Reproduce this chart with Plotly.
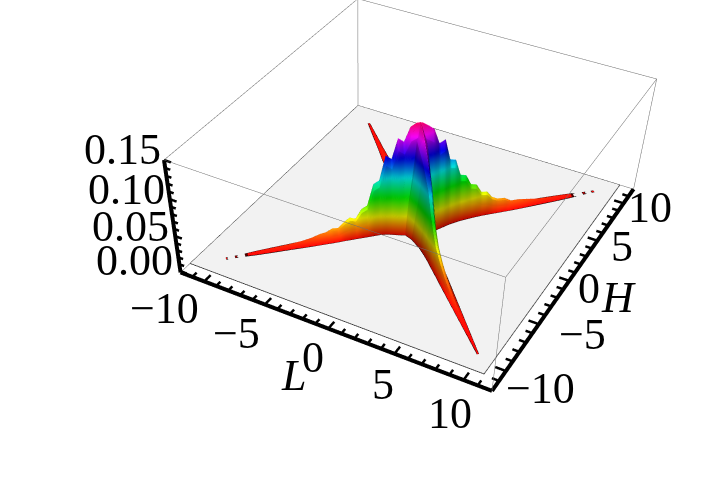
import numpy as np
import plotly.graph_objects as go

# ---- data -----------------------------------------------------------------
L_RANGE = [-12, 12]
H_RANGE = [-12, 12]
Z_RANGE = [-0.002, 0.15]
FLOOR_L = [-12, 10.9]
FLOOR_H = [-10.9, 12]
L_TICKS = list(range(-11, 12))
H_TICKS = list(range(-11, 12))
Z_TICKS = [round(0.01 * i, 2) for i in range(0, 16)]
L_LABELS = [(-10, "\u221210", -40, 27), (-5, "\u22125", -28, 29), (0, "0", -15, 29), (5, "5", -11, 31), (10, "10", -13, 33)]
H_LABELS = [(-10, "\u221210", 35, 17), (-5, "\u22125", 44, 10), (0, "0", 20, 8), (5, "5", 25, 6), (10, "10", 26, 4)]
Z_LABELS = [(0.0, "0.00", -46, -11), (0.05, "0.05", -45, -10), (0.1, "0.10", -43, -10), (0.15, "0.15", -42, -10)]
ACROSS = [-1, -0.6, -0.25, 0, 0.25, 0.6, 1]
CENTER_P = 0.1
CENTER_Q = -0.3
GAP = [None] * 7

# ridge along L = H (left arm to right arm)
P_STATIONS = [-9.8,-9.7,-9.55,-9.35,-9.2,-9.05,-8.85,-8.3,-7.5,-6.8,-6,-5.5,-5,
              -4.7,-4.4,-4.1,-3.8,-3.5,-3.2,-2.9,-2.6,-2.3,-2,-1.7,-1.4,-1.1,-.8,-.5,-.2,
              .1,.4,.7,1,1.3,1.6,1.9,2.2,2.5,2.8,3.1,3.4,3.7,4,4.3,4.7,5.1,5.5,6.5,7.5,8.2,8.7,
              8.95,9.1,9.3,9.45,9.6,9.75]
P_WIDTH = [.07,.08,.08,.08,.08,.09,.1,.15,.19,.22,.26,.28,.3,
           .31,.32,.32,.32,.33,.33,.34,.35,.36,.38,.44,.55,.68,.78,.88,1.0,
           1.05,.95,.85,.75,.65,.55,.48,.42,.38,.35,.32,.31,.3,.3,.3,.3,.3,.29,.26,.22,.18,.14,
           .11,.09,.08,.08,.07,.06]
P_Z = [
 [.0002,.0002,.0003,.0004,.0003,.0002,.0002],
 [.0002,.0003,.0004,.0005,.0004,.0003,.0002],
 GAP,
 [.0002,.0003,.0004,.0005,.0004,.0003,.0002],
 [.0002,.0003,.0004,.0005,.0004,.0003,.0002],
 GAP,
 [.0002,.0003,.0005,.0006,.0005,.0003,.0002],
 [.0002,.0007,.0013,.0015,.0013,.0007,.0002],
 [.0002,.0011,.0022,.0025,.0022,.0011,.0002],
 [.0002,.0016,.0031,.0035,.0031,.0016,.0002],
 [.0002,.0022,.0044,.005,.0044,.0023,.0002],
 [.0002,.0032,.0062,.007,.0062,.0032,.0002],
 [.0003,.005,.0097,.011,.0097,.005,.0003],
 [.0003,.0054,.0106,.012,.0106,.0054,.0003],
 [.0003,.0072,.0141,.016,.0141,.0072,.0003],
 [.0003,.0068,.0132,.015,.0132,.0068,.0003],
 [.0004,.0099,.0194,.022,.0194,.0099,.0004],
 [.0004,.0122,.0238,.027,.0238,.0122,.0004],
 [.0004,.0108,.0211,.024,.0211,.0108,.0004],
 [.0004,.0162,.0317,.036,.0317,.0162,.0004],
 [.0005,.018,.0352,.04,.0352,.018,.0005],
 [.0006,.0306,.0598,.068,.0598,.0306,.0006],
 [.0008,.0324,.0634,.072,.0634,.0324,.0008],
 [.001,.0468,.0915,.104,.0915,.0468,.001],
 [.001,.0441,.0862,.098,.0862,.0441,.001],
 [.001,.0558,.1091,.124,.1091,.0558,.001],
 [.001,.0531,.1038,.118,.1038,.0531,.001],
 [.001,.0612,.1197,.136,.1197,.0612,.001],
 [.001,.063,.1232,.14,.1232,.063,.001],
 [.001,.0626,.1223,.139,.1223,.0626,.001],
 [.001,.0603,.1179,.134,.1179,.0603,.001],
 [.001,.0576,.1126,.128,.1126,.0576,.001],
 [.001,.0486,.095,.108,.095,.0486,.001],
 [.001,.0504,.0986,.112,.0986,.0504,.001],
 [.001,.0378,.0739,.084,.0739,.0378,.001],
 [.0008,.0369,.0722,.082,.0722,.0369,.0008],
 [.0008,.027,.0528,.06,.0528,.027,.0008],
 [.0006,.0261,.051,.058,.051,.0261,.0006],
 [.0006,.0198,.0387,.044,.0387,.0198,.0006],
 [.0005,.0189,.037,.042,.037,.0189,.0005],
 [.0005,.0135,.0264,.03,.0264,.0135,.0005],
 [.0004,.0131,.0255,.029,.0255,.0131,.0004],
 [.0004,.009,.0176,.02,.0176,.009,.0004],
 [.0003,.0072,.0141,.016,.0141,.0072,.0003],
 [.0003,.0068,.0132,.015,.0132,.0068,.0003],
 [.0002,.0041,.0079,.009,.0079,.0041,.0002],
 [.0002,.0041,.0079,.009,.0079,.0041,.0002],
 [.0002,.002,.004,.0045,.004,.002,.0002],
 [.0002,.0014,.0026,.003,.0026,.0014,.0002],
 [.0002,.0009,.0018,.002,.0018,.0009,.0002],
 [.0002,.0005,.0009,.001,.0009,.0005,.0002],
 GAP,
 [.0002,.0003,.0004,.0005,.0004,.0003,.0002],
 [.0002,.0003,.0004,.0005,.0004,.0003,.0002],
 GAP,
 [.0002,.0002,.0003,.0004,.0003,.0002,.0002],
 [.0002,.0002,.0003,.0004,.0003,.0002,.0002],
]

# ridge along L = -H (back arm to front arm)
Q_STATIONS = [-9.6,-8.8,-8,-7,-6,-5,-4,-3,-2,-1.2,-.6,0,.6,1.2,2,2.5,3,3.5,4.2,5,6,7,8,9,10]
Q_WIDTH = [.05,.08,.11,.14,.19,.22,.27,.3,.4,.55,.8,1.0,.9,.6,.42,.36,.32,.3,.27,.24,.2,.16,.12,.08,.04]
Q_Z = [
 [.0002,.0002,.0003,.0004,.0003,.0002,.0002],
 [.0002,.0004,.0007,.0008,.0007,.0004,.0002],
 [.0002,.0005,.001,.0012,.001,.0005,.0002],
 [.0002,.0009,.0018,.002,.0018,.0009,.0002],
 [.0002,.0014,.0026,.003,.0026,.0014,.0002],
 [.0002,.0022,.0044,.005,.0044,.0022,.0002],
 [.0003,.0045,.0088,.01,.0088,.0045,.0003],
 [.0004,.0099,.0194,.022,.0194,.0099,.0004],
 [.0006,.0225,.044,.05,.044,.0225,.0006],
 [.001,.0473,.0924,.105,.0924,.0473,.001],
 [.001,.0585,.1144,.13,.1144,.0585,.001],
 [.001,.063,.1232,.14,.1232,.063,.001],
 [.001,.0585,.1144,.13,.1144,.0585,.001],
 [.001,.0518,.1012,.115,.1012,.0518,.001],
 [.001,.0405,.0792,.09,.0792,.0405,.001],
 [.0008,.0288,.0563,.064,.0563,.0288,.0008],
 [.0006,.0203,.0396,.045,.0396,.0203,.0006],
 [.0005,.0135,.0264,.03,.0264,.0135,.0005],
 [.0004,.009,.0176,.02,.0176,.009,.0004],
 [.0003,.0054,.0106,.012,.0106,.0054,.0003],
 [.0002,.0027,.0053,.006,.0053,.0027,.0002],
 [.0002,.0014,.0026,.003,.0026,.0014,.0002],
 [.0002,.0007,.0013,.0015,.0013,.0007,.0002],
 [.0002,.0003,.0005,.0006,.0005,.0003,.0002],
 [.0002,.0002,.0002,.0003,.0002,.0002,.0002],
]

HUE_SCALE = [[0, "#ff0000"], [1/6, "#ffff00"], [1/3, "#00ff00"], [1/2, "#00ffff"],
             [2/3, "#0000ff"], [5/6, "#ff00ff"], [1, "#ff0000"]]
FONT = "Liberation Serif"
GRAY = "#6e6e6e"
# ---------------------------------------------------------------------------

def strip_coords(stations, widths, along_p):
    s = np.array(stations)[:, None]
    a = np.array(widths)[:, None] * np.array(ACROSS)[None, :]
    p = (s + CENTER_P) if along_p else (a + CENTER_P)
    q = (a + CENTER_Q) if along_p else (s + CENTER_Q)
    return p + q, p - q

fig = go.Figure()
a, b = L_RANGE; c, d = H_RANGE; e, f = Z_RANGE

# floor
fig.add_trace(go.Surface(x=FLOOR_L, y=FLOOR_H, z=[[e] * 2] * 2,
                         colorscale=[[0, "#f2f2f2"], [1, "#f2f2f2"]], showscale=False,
                         lighting=dict(ambient=1, diffuse=0, specular=0, fresnel=0), hoverinfo="skip"))
fx0, fx1, fy0, fy1 = FLOOR_L[0], FLOOR_L[1], FLOOR_H[0], FLOOR_H[1]
fig.add_trace(go.Scatter3d(x=[fx0, fx1, fx1, fx0, fx0], y=[fy0, fy0, fy1, fy1, fy0], z=[e] * 5, mode="lines",
                           line=dict(color="#222222", width=1.5), showlegend=False, hoverinfo="skip"))

# ridges
for st, wd, zz, flag in [(P_STATIONS, P_WIDTH, P_Z, True), (Q_STATIONS, Q_WIDTH, Q_Z, False)]:
    X, Y = strip_coords(st, wd, flag)
    fig.add_trace(go.Surface(x=X, y=Y, z=zz, colorscale=HUE_SCALE, cmin=0, cmax=0.15, showscale=False,
                             lighting=dict(ambient=0.3, diffuse=1.0, specular=0.05, roughness=0.8, fresnel=0),
                             lightposition=dict(x=1500, y=3000, z=1800), hoverinfo="skip"))
    for col in (0, -1):
        fig.add_trace(go.Scatter3d(x=X[:, col], y=Y[:, col], z=[row[col] for row in zz], mode="lines",
                                   line=dict(color="black", width=1), showlegend=False, hoverinfo="skip"))

# bounding box
def segs(pairs, color, width):
    xs, ys, zs = [], [], []
    for p, q in pairs:
        xs += [p[0], q[0], None]; ys += [p[1], q[1], None]; zs += [p[2], q[2], None]
    fig.add_trace(go.Scatter3d(x=xs, y=ys, z=zs, mode="lines", line=dict(color=color, width=width),
                               showlegend=False, hoverinfo="skip"))
segs([((b,d,e),(a,d,e)),((a,d,e),(a,c,e)),
      ((a,c,f),(b,c,f)),((b,c,f),(b,d,f)),((b,d,f),(a,d,f)),((a,d,f),(a,c,f)),
      ((b,c,e),(b,c,f)),((b,d,e),(b,d,f)),((a,d,e),(a,d,f))], GRAY, 1)

# the three black axes and their ticks
segs([((a,c,e),(b,c,e)),((b,c,e),(b,d,e)),((a,c,e),(a,c,f))], "black", 8)
L_LAB = {t[0] for t in L_LABELS}; H_LAB = {t[0] for t in H_LABELS}; Z_LAB = {t[0] for t in Z_LABELS}
tick = []
for v in L_TICKS:
    tick.append(((v,c,e),(v,c+(0.75 if v in L_LAB else 0.5),e)))
for v in H_TICKS:
    tick.append(((b,v,e),(b-(0.75 if v in H_LAB else 0.5),v,e)))
for v in Z_TICKS:
    tick.append(((a,c,v),(a+(0.55 if v in Z_LAB else 0.4),c,v)))
segs(tick, "black", 5)

def axis(rng):
    return dict(range=rng, autorange=False, showticklabels=False, ticks="", showline=False,
                showgrid=False, zeroline=False, showbackground=False, showspikes=False, title=dict(text=""))

font = dict(family=FONT, size=44, color="black")
ann = []
for v, t, sx, sy in L_LABELS:
    ann.append(dict(x=v, y=c, z=e, text=t, xshift=sx, yshift=-sy))
for v, t, sx, sy in H_LABELS:
    ann.append(dict(x=b, y=v, z=e, text=t, xshift=sx, yshift=-sy))
for v, t, sx, sy in Z_LABELS:
    ann.append(dict(x=a, y=c, z=v, text=t, xshift=sx, yshift=-sy))
ann.append(dict(x=0, y=c, z=e, text="<i>L</i>", xshift=-35, yshift=-47))
ann.append(dict(x=b, y=0, z=e, text="<i>H</i>", xshift=49, yshift=-17))
for an in ann:
    an.update(showarrow=False, font=font, xanchor="center", yanchor="middle")

fig.update_layout(
    width=720, height=950, autosize=False, margin=dict(l=0, r=0, t=0, b=0),
    paper_bgcolor="white", showlegend=False,
    scene=dict(
        domain=dict(x=[0, 1], y=[0, 1]),
        xaxis=axis([-12.05, 12.05]),
        yaxis=axis([-12.05, 12.05]),
        zaxis=axis([-0.0025, 0.1505]),
        aspectmode="manual",
        aspectratio=dict(x=0.9771, y=1.0219, z=0.3692),
        camera=dict(eye=dict(x=1.2322, y=-2.5078, z=1.8684),
                    center=dict(x=0.2232, y=-0.7289, z=-0.4384),
                    up=dict(x=0.0037, y=0.0021, z=1),
                    projection=dict(type="perspective")),
        annotations=ann,
    ),
)
fig.write_html("out.html", config=dict(displayModeBar=False),
               post_script="document.body.style.margin='0';document.body.style.overflow='hidden';")
